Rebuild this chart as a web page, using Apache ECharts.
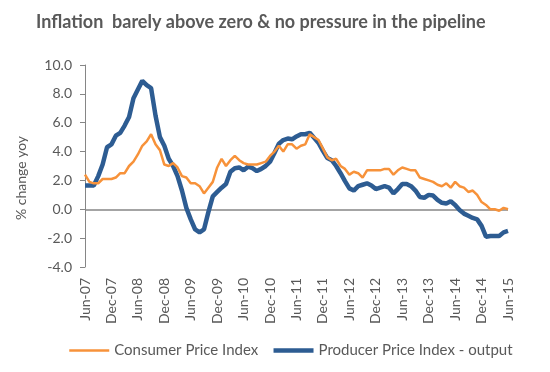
<!DOCTYPE html>
<html>
<head>
<meta charset="utf-8">
<script src="https://cdn.jsdelivr.net/npm/echarts@6/dist/echarts.min.js"></script>
<style>
html,body{margin:0;padding:0;background:#fff;}
#chart{width:550px;height:372px;}
</style>
</head>
<body>
<div id="chart"></div>
<script>
// Month labels Jun-07 .. Jun-15
var monthNames = ['Jan','Feb','Mar','Apr','May','Jun','Jul','Aug','Sep','Oct','Nov','Dec'];
var categories = [];
for (var y = 2007; y <= 2015; y++) {
  for (var m = 0; m < 12; m++) {
    if (y === 2007 && m < 5) continue;
    if (y === 2015 && m > 5) continue;
    categories.push(monthNames[m] + '-' + String(y).slice(2));
  }
}

var cpi = [
  2.4,1.9,1.8,1.8,2.1,2.1,2.1,
  2.2,2.5,2.5,3.0,3.3,3.8,4.4,4.7,5.2,4.5,4.1,3.1,
  3.0,3.2,2.9,2.3,2.2,1.8,1.8,1.6,1.1,1.5,1.9,2.9,
  3.5,3.0,3.4,3.7,3.4,3.2,3.1,3.1,3.1,3.2,3.3,3.7,
  4.0,4.4,4.0,4.5,4.5,4.2,4.4,4.5,5.2,5.0,4.8,4.2,
  3.6,3.4,3.5,3.0,2.8,2.4,2.6,2.5,2.2,2.7,2.7,2.7,
  2.7,2.8,2.8,2.4,2.7,2.9,2.8,2.7,2.7,2.2,2.1,2.0,
  1.9,1.7,1.6,1.8,1.5,1.9,1.6,1.5,1.2,1.3,1.0,0.5,
  0.3,0.0,0.0,-0.1,0.1,0.0
];

var ppi = [
  1.65,1.65,1.65,2.3,3.1,4.3,4.5,
  5.1,5.3,5.8,6.4,7.7,8.3,8.9,8.6,8.4,6.5,5.0,4.4,
  3.5,3.0,2.3,1.3,0.1,-0.7,-1.4,-1.6,-1.4,-0.2,0.9,1.2,
  1.5,1.75,2.6,2.85,2.9,2.7,2.95,2.85,2.65,2.8,3.0,3.3,
  3.9,4.55,4.8,4.9,4.85,5.05,5.2,5.2,5.3,4.95,4.6,4.05,
  3.55,3.4,3.0,2.5,1.95,1.45,1.3,1.6,1.7,1.8,1.65,1.4,
  1.5,1.6,1.5,1.1,1.4,1.75,1.75,1.6,1.3,0.85,0.8,1.0,
  0.95,0.65,0.45,0.4,0.55,0.3,-0.05,-0.3,-0.45,-0.6,-0.7,-1.15,
  -1.9,-1.85,-1.85,-1.85,-1.6,-1.5
];

var seriesNames = ['Consumer Price Index', 'Producer Price Index - output'];
var titleText = 'Inflation  barely above zero & no pressure in the pipeline';
var yAxisName = '% change yoy';

var FONT = 'Lato';
var GREY = '#595959';
var chart = echarts.init(document.getElementById('chart'), null, {renderer: 'canvas'});
chart.setOption({
  animation: false,
  backgroundColor: '#ffffff',
  title: {
    text: titleText,
    left: 31,
    top: 8,
    textStyle: {fontFamily: FONT, fontSize: 18, fontWeight: 'bold', color: GREY}
  },
  graphic: [{
    type: 'text',
    x: 21, y: 178,
    rotation: Math.PI / 2,
    style: {text: yAxisName, fontFamily: FONT, fontSize: 14, fill: GREY, align: 'center', verticalAlign: 'middle'}
  }],
  legend: {
    data: seriesNames,
    left: 63,
    top: 338,
    itemWidth: 40,
    itemHeight: 14,
    itemGap: 13,
    itemStyle: {opacity: 0},
    lineStyle: {width: 'inherit'},
    textStyle: {fontFamily: FONT, fontSize: 15, color: GREY}
  },
  grid: {left: 85, right: 42, top: 65, bottom: 105, containLabel: false},
  xAxis: {
    type: 'category',
    data: categories,
    boundaryGap: false,
    axisLine: {show: false, onZero: false},
    axisTick: {show: false},
    axisLabel: {interval: 5, rotate: 90, margin: 11, fontFamily: FONT, fontSize: 14, color: GREY}
  },
  yAxis: {
    type: 'value',
    min: -4, max: 10, interval: 2,
    axisLine: {show: true, lineStyle: {color: '#868686', width: 1}},
    axisTick: {show: true, length: 5, lineStyle: {color: '#868686'}},
    splitLine: {show: false},
    axisLabel: {margin: 13, fontFamily: FONT, fontSize: 14, color: GREY, formatter: function (v) { return v.toFixed(1); }}
  },
  series: [
    {
      name: seriesNames[0],
      type: 'line',
      data: cpi,
      symbol: 'none',
      lineStyle: {color: '#F7923A', width: 2.5},
      itemStyle: {color: '#F7923A'},
      z: 3,
      markLine: {
        silent: true,
        symbol: 'none',
        label: {show: false},
        lineStyle: {color: '#868686', width: 1.5, type: 'solid'},
        data: [{yAxis: 0}],
        z: 1
      }
    },
    {
      name: seriesNames[1],
      type: 'line',
      data: ppi,
      symbol: 'none',
      lineStyle: {color: '#2D5C92', width: 4.5},
      itemStyle: {color: '#2D5C92'},
      z: 2
    }
  ]
});
</script>
</body>
</html>
